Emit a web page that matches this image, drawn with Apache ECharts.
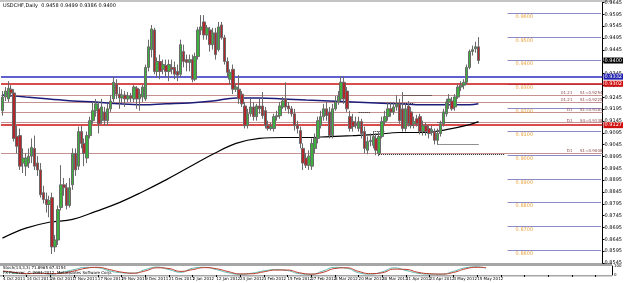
<!DOCTYPE html>
<html>
<head>
<meta charset="utf-8">
<script src="https://cdn.jsdelivr.net/npm/echarts@6/dist/echarts.min.js"></script>
<style>
html, body { margin: 0; padding: 0; background: #fff; }
#chart { width: 625px; height: 283px; }
</style>
</head>
<body>
<div id="chart"></div>
<script>
const symbolTitle = 'USDCHF,Daily  0.9458 0.9499 0.9386 0.9400';
const stochTitle = 'Stoch(14,3,3) 71.8965 67.4154';
const copyright = 'FX Premier, \u00a9 2001-2012, MetaQuotes Software Corp.';
const barCount = 164;
const emptyBars = 42;
const monthNames = ['Jan', 'Feb', 'Mar', 'Apr', 'May', 'Jun', 'Jul', 'Aug', 'Sep', 'Oct', 'Nov', 'Dec'];

// daily bars, 4 Oct 2011 .. 18 May 2012
const opens = [
	0.9188, 0.9246, 0.9238, 0.9279, 0.9263, 0.9079, 0.9083, 0.8967, 0.8954, 0.8967,
	0.8996, 0.9029, 0.8967, 0.8938, 0.8842, 0.8813, 0.8792, 0.8821, 0.8613, 0.8642,
	0.8779, 0.8875, 0.8863, 0.8788, 0.8875, 0.9008, 0.8954, 0.9100, 0.9050, 0.8988,
	0.9083, 0.9146, 0.9188, 0.9196, 0.9146, 0.9183, 0.9146, 0.9196, 0.9238, 0.9300,
	0.9258, 0.9242, 0.9254, 0.9238, 0.9250, 0.9238, 0.9283, 0.9238, 0.9246, 0.9238,
	0.9371, 0.9446, 0.9529, 0.9354, 0.9396, 0.9363, 0.9379, 0.9354, 0.9371, 0.9371,
	0.9354, 0.9342, 0.9438, 0.9404, 0.9392, 0.9404, 0.9321, 0.9417, 0.9529, 0.9563,
	0.9508, 0.9529, 0.9467, 0.9517, 0.9446, 0.9550, 0.9496, 0.9396, 0.9321, 0.9363,
	0.9279, 0.9279, 0.9258, 0.9208, 0.9125, 0.9175, 0.9204, 0.9163, 0.9208, 0.9208,
	0.9188, 0.9125, 0.9113, 0.9113, 0.9163, 0.9167, 0.9204, 0.9238, 0.9208, 0.9196,
	0.9175, 0.9125, 0.9104, 0.9029, 0.8988, 0.8958, 0.8954, 0.9029, 0.9071, 0.9125,
	0.9163, 0.9196, 0.9183, 0.9083, 0.9196, 0.9225, 0.9238, 0.9308, 0.9271, 0.9163,
	0.9142, 0.9133, 0.9113, 0.9142, 0.9100, 0.9021, 0.9058, 0.9042, 0.9071, 0.9008,
	0.9079, 0.9142, 0.9163, 0.9196, 0.9183, 0.9204, 0.9217, 0.9196, 0.9113, 0.9208,
	0.9183, 0.9133, 0.9154, 0.9163, 0.9100, 0.9125, 0.9113, 0.9100, 0.9100, 0.9063,
	0.9092, 0.9133, 0.9175, 0.9225, 0.9229, 0.9204, 0.9246, 0.9288, 0.9296, 0.9308,
	0.9371, 0.9438, 0.9450, 0.9458
];
const closes = [
	0.9246, 0.9271, 0.9283, 0.9263, 0.9071, 0.9038, 0.8954, 0.8988, 0.8988, 0.8996,
	0.9033, 0.8954, 0.8938, 0.8833, 0.8813, 0.8792, 0.8808, 0.8613, 0.8642, 0.8771,
	0.8875, 0.8863, 0.8788, 0.8863, 0.9008, 0.8938, 0.9100, 0.9050, 0.9008, 0.9083,
	0.9146, 0.9188, 0.9217, 0.9133, 0.9204, 0.9146, 0.9196, 0.9229, 0.9308, 0.9258,
	0.9242, 0.9254, 0.9238, 0.9250, 0.9242, 0.9288, 0.9238, 0.9258, 0.9288, 0.9371,
	0.9458, 0.9533, 0.9354, 0.9396, 0.9354, 0.9383, 0.9354, 0.9383, 0.9363, 0.9342,
	0.9338, 0.9467, 0.9396, 0.9392, 0.9404, 0.9321, 0.9417, 0.9529, 0.9542, 0.9508,
	0.9538, 0.9467, 0.9517, 0.9425, 0.9542, 0.9496, 0.9396, 0.9350, 0.9350, 0.9279,
	0.9288, 0.9238, 0.9217, 0.9125, 0.9175, 0.9204, 0.9163, 0.9208, 0.9196, 0.9167,
	0.9125, 0.9113, 0.9121, 0.9163, 0.9167, 0.9208, 0.9229, 0.9204, 0.9196, 0.9175,
	0.9125, 0.9113, 0.9050, 0.8967, 0.8958, 0.8996, 0.9050, 0.9071, 0.9146, 0.9163,
	0.9196, 0.9167, 0.9083, 0.9196, 0.9225, 0.9250, 0.9308, 0.9238, 0.9196, 0.9113,
	0.9121, 0.9129, 0.9142, 0.9092, 0.9029, 0.9058, 0.9063, 0.9079, 0.9021, 0.9079,
	0.9142, 0.9163, 0.9196, 0.9183, 0.9204, 0.9217, 0.9146, 0.9113, 0.9196, 0.9133,
	0.9125, 0.9142, 0.9133, 0.9100, 0.9125, 0.9100, 0.9092, 0.9108, 0.9063, 0.9092,
	0.9133, 0.9183, 0.9225, 0.9238, 0.9196, 0.9246, 0.9288, 0.9296, 0.9308, 0.9371,
	0.9438, 0.9446, 0.9458, 0.9400
];
const lows = [
	0.9167, 0.9229, 0.9225, 0.9246, 0.9058, 0.9008, 0.8938, 0.8925, 0.8913, 0.8946,
	0.8967, 0.8938, 0.8913, 0.8821, 0.8796, 0.8758, 0.8738, 0.8583, 0.8592, 0.8621,
	0.8767, 0.8829, 0.8771, 0.8779, 0.8854, 0.8913, 0.8938, 0.9029, 0.8954, 0.8967,
	0.9071, 0.9133, 0.9163, 0.9092, 0.9133, 0.9125, 0.9125, 0.9183, 0.9225, 0.9238,
	0.9196, 0.9221, 0.9204, 0.9225, 0.9225, 0.9225, 0.9196, 0.9188, 0.9225, 0.9229,
	0.9354, 0.9413, 0.9342, 0.9329, 0.9321, 0.9342, 0.9329, 0.9313, 0.9342, 0.9321,
	0.9313, 0.9329, 0.9371, 0.9354, 0.9354, 0.9308, 0.9313, 0.9404, 0.9508, 0.9488,
	0.9488, 0.9438, 0.9446, 0.9404, 0.9438, 0.9488, 0.9383, 0.9329, 0.9300, 0.9258,
	0.9267, 0.9217, 0.9204, 0.9113, 0.9113, 0.9163, 0.9146, 0.9146, 0.9175, 0.9154,
	0.9113, 0.9104, 0.9104, 0.9100, 0.9146, 0.9154, 0.9196, 0.9188, 0.9175, 0.9163,
	0.9104, 0.9092, 0.9029, 0.8938, 0.8946, 0.8938, 0.8938, 0.9008, 0.9050, 0.9113,
	0.9146, 0.9146, 0.9071, 0.9071, 0.9188, 0.9213, 0.9229, 0.9217, 0.9183, 0.9100,
	0.9100, 0.9113, 0.9100, 0.9071, 0.9008, 0.9004, 0.9038, 0.9029, 0.9000, 0.8996,
	0.9071, 0.9129, 0.9146, 0.9163, 0.9171, 0.9188, 0.9133, 0.9100, 0.9100, 0.9121,
	0.9113, 0.9113, 0.9121, 0.9088, 0.9083, 0.9083, 0.9071, 0.9083, 0.9046, 0.9046,
	0.9079, 0.9121, 0.9163, 0.9196, 0.9188, 0.9188, 0.9238, 0.9271, 0.9279, 0.9300,
	0.9363, 0.9421, 0.9433, 0.9386
];
const highs = [
	0.9271, 0.9288, 0.9313, 0.9296, 0.9279, 0.9125, 0.9113, 0.9029, 0.9008, 0.9029,
	0.9071, 0.9083, 0.8996, 0.8967, 0.8871, 0.8842, 0.8829, 0.8842, 0.8663, 0.8788,
	0.8958, 0.8904, 0.8883, 0.8904, 0.9029, 0.9029, 0.9121, 0.9125, 0.9071, 0.9100,
	0.9163, 0.9225, 0.9238, 0.9225, 0.9238, 0.9204, 0.9217, 0.9254, 0.9333, 0.9321,
	0.9288, 0.9279, 0.9271, 0.9267, 0.9263, 0.9296, 0.9292, 0.9279, 0.9300, 0.9383,
	0.9488, 0.9550, 0.9538, 0.9413, 0.9425, 0.9404, 0.9404, 0.9404, 0.9404, 0.9396,
	0.9383, 0.9488, 0.9467, 0.9425, 0.9425, 0.9425, 0.9433, 0.9542, 0.9592, 0.9592,
	0.9550, 0.9542, 0.9538, 0.9538, 0.9563, 0.9563, 0.9508, 0.9413, 0.9363, 0.9383,
	0.9300, 0.9338, 0.9271, 0.9225, 0.9196, 0.9238, 0.9225, 0.9217, 0.9238, 0.9267,
	0.9204, 0.9146, 0.9138, 0.9175, 0.9188, 0.9225, 0.9246, 0.9308, 0.9225, 0.9208,
	0.9196, 0.9146, 0.9121, 0.9050, 0.9008, 0.9021, 0.9071, 0.9092, 0.9163, 0.9188,
	0.9217, 0.9225, 0.9204, 0.9217, 0.9250, 0.9271, 0.9333, 0.9333, 0.9288, 0.9188,
	0.9175, 0.9163, 0.9163, 0.9154, 0.9121, 0.9079, 0.9092, 0.9100, 0.9092, 0.9100,
	0.9163, 0.9188, 0.9225, 0.9225, 0.9225, 0.9254, 0.9238, 0.9267, 0.9217, 0.9229,
	0.9204, 0.9163, 0.9171, 0.9175, 0.9146, 0.9138, 0.9125, 0.9125, 0.9113, 0.9113,
	0.9146, 0.9196, 0.9238, 0.9258, 0.9246, 0.9258, 0.9300, 0.9313, 0.9321, 0.9383,
	0.9446, 0.9463, 0.9479, 0.9499
];

// moving averages, sampled at [bar index, value]
const maNavy = [
	[0, 0.9254], [8, 0.9246], [16, 0.9238], [24, 0.9229], [32, 0.9225], [40, 0.9217],
	[48, 0.9213], [56, 0.9217], [64, 0.9221], [72, 0.9229], [80, 0.9242], [88, 0.9242],
	[96, 0.9238], [104, 0.9233], [112, 0.9229], [120, 0.9225], [128, 0.9221], [136, 0.9217],
	[144, 0.9213], [152, 0.9213], [160, 0.9213], [163, 0.9217]
];
const maBlack = [
	[0, 0.8650], [8, 0.8692], [16, 0.8717], [24, 0.8729], [32, 0.8763], [40, 0.8800],
	[48, 0.8846], [56, 0.8896], [64, 0.8950], [72, 0.9004], [80, 0.9050], [88, 0.9071],
	[96, 0.9075], [104, 0.9075], [112, 0.9079], [120, 0.9083], [128, 0.9088], [136, 0.9096],
	[144, 0.9096], [152, 0.9108], [160, 0.9129], [163, 0.9142]
];

// stochastic, sampled at [bar index, value]
const stochMain = [
	[0, 40], [4, 20], [8, 15], [12, 25], [16, 10], [20, 30], [24, 60], [28, 85], [32, 80],
	[36, 45], [40, 25], [44, 20], [48, 60], [52, 88], [56, 60], [60, 30], [64, 75], [68, 85],
	[72, 60], [76, 25], [80, 8], [84, 20], [88, 45], [92, 60], [96, 50], [100, 15], [104, 8],
	[108, 45], [112, 85], [116, 75], [120, 25], [124, 10], [128, 35], [132, 80], [136, 50],
	[140, 20], [144, 10], [148, 10], [152, 40], [156, 80], [160, 90], [163, 75]
];
const stochSignal = [
	[0, 45], [4, 28], [8, 15], [12, 20], [16, 15], [20, 20], [24, 45], [28, 75], [32, 85],
	[36, 60], [40, 32], [44, 20], [48, 45], [52, 80], [56, 72], [60, 40], [64, 60], [68, 82],
	[72, 70], [76, 38], [80, 12], [84, 14], [88, 35], [92, 55], [96, 55], [100, 25], [104, 10],
	[108, 30], [112, 72], [116, 80], [120, 40], [124, 15], [128, 25], [132, 65], [136, 62],
	[140, 30], [144, 14], [148, 10], [152, 28], [156, 68], [160, 86], [163, 82]
];

// horizontal levels
const pivotLevels = [0.9254, 0.9225, 0.9183, 0.9138, 0.9008];
const pivotTags = ['01.21      S1=0.9254', '01.21      S1=0.9225', 'D1      S1=0.9183', 'D1      S4=0.9138', 'D1      S1=0.9008'];
const fibLevels = [0.9600, 0.9500, 0.9400, 0.9300, 0.9200, 0.9100, 0.9000, 0.8900, 0.8800, 0.8700, 0.8600];
const fibRange = [173, 205];
const dottedSegments = [
	[137, 147, 0.9254], [149, 163, 0.9138], [149, 163, 0.9046], [129, 172, 0.9004],
	[122, 126, 0.9183], [127, 131, 0.9100], [132, 141, 0.9221]
];
// full-width levels with a price box on the axis (line: null = box only)
const priceTags = [
	{ value: 0.9400, bg: '#000000', line: null },
	{ value: 0.9332, bg: '#1f1fb0', line: '#2b2bc0' },
	{ value: 0.9302, bg: '#d01010', line: '#cc1111' },
	{ value: 0.9127, bg: '#d01010', line: '#cc1111' }
];

function buildDates() {
	const out = [];
	const d = new Date(2011, 9, 4);
	while (out.length < barCount) {
		const wd = d.getDay();
		if (wd !== 0 && wd !== 6) {
			out.push(d.getDate() + ' ' + monthNames[d.getMonth()] + ' ' + d.getFullYear());
		}
		d.setDate(d.getDate() + 1);
	}
	for (let i = 0; i < emptyBars; i++) out.push('');
	return out;
}

function buildMarkLines() {
	const lines = [];
	pivotLevels.forEach((v, i) => {
		lines.push({
			yAxis: v,
			lineStyle: { color: '#c49090', width: 1, type: 'solid' },
			label: { show: true, position: 'insideEndTop', formatter: pivotTags[i], fontSize: 4, color: '#8a4a4a', distance: 0 }
		});
	});
	fibLevels.forEach(v => {
		lines.push([
			{
				coord: [fibRange[0], v],
				lineStyle: { color: '#8a8ac8', width: 1.2, type: 'solid' },
				label: { show: true, position: 'insideStartBottom', formatter: v.toFixed(4), fontSize: 5, color: '#e8a23a', distance: [8, 1] }
			},
			{ coord: [fibRange[1], v] }
		]);
	});
	dottedSegments.forEach(s => {
		lines.push([
			{ coord: [s[0], s[2]], lineStyle: { color: '#222', width: 1, type: [1, 1] } },
			{ coord: [s[1], s[2]] }
		]);
	});
	priceTags.forEach(t => {
		lines.push({
			yAxis: t.value,
			lineStyle: { color: t.line || 'rgba(0,0,0,0)', width: 1.5, type: 'solid' },
			label: {
				show: true, position: 'end', distance: 1, formatter: t.value.toFixed(4),
				fontSize: 5, color: '#ffffff', backgroundColor: t.bg, padding: [1, 1, 0, 1]
			}
		});
	});
	return lines;
}

function draw() {
	const dates = buildDates();
	const candles = opens.map((o, i) => [o, closes[i], lows[i], highs[i]]);
	const box = document.getElementById('chart');
	const chart = echarts.init(box, null, { renderer: 'canvas' });
	const font = 'DejaVu Sans';

	chart.setOption({
		animation: false,
		backgroundColor: '#ffffff',
		textStyle: { fontFamily: font },
		grid: [
			{ left: 1, right: 13, top: 2, height: 261 },
			{ left: 1, right: 13, top: 266, height: 9 }
		],
		xAxis: [
			{
				type: 'category', gridIndex: 0, data: dates, boundaryGap: true,
				axisLine: { show: false }, axisTick: { show: false }, axisLabel: { show: false }, splitLine: { show: false }
			},
			{
				type: 'category', gridIndex: 1, data: dates, boundaryGap: true,
				axisLine: { show: false },
				axisTick: { show: true, interval: 7, alignWithLabel: true, length: 2, lineStyle: { color: '#000' } },
				axisLabel: { interval: 7, showMinLabel: true, fontSize: 4, color: '#000', align: 'left', margin: 2 },
				splitLine: { show: false }
			}
		],
		yAxis: [
			{
				type: 'value', gridIndex: 0, position: 'right', min: 0.8545, max: 0.9645, interval: 0.005,
				axisLine: { show: true, lineStyle: { color: '#000', width: 1 } },
				axisTick: { show: true, length: 2, lineStyle: { color: '#000' } },
				axisLabel: { fontSize: 5, color: '#000', margin: 2, formatter: v => v.toFixed(4) },
				splitLine: { show: false }
			},
			{
				type: 'value', gridIndex: 1, position: 'right', min: 0, max: 100, interval: 100,
				axisLine: { show: true, lineStyle: { color: '#000', width: 1 } },
				axisTick: { show: false },
				axisLabel: { fontSize: 4, color: '#000', margin: 2 },
				splitLine: { show: false }
			}
		],
		graphic: [
			{ type: 'rect', left: 0, top: 0, shape: { width: 612, height: 2 }, style: { fill: '#c4c4c4' }, silent: true },
			{ type: 'rect', left: 0, top: 263, shape: { width: 612, height: 3 }, style: { fill: '#a6a6a6' }, silent: true },
			{ type: 'rect', left: 0, top: 275, shape: { width: 612, height: 1.5 }, style: { fill: '#a6a6a6' }, silent: true },
			{ type: 'text', left: 3, top: 3, style: { text: symbolTitle, fontSize: 5, fill: '#000', fontFamily: font }, z: 20 },
			{ type: 'text', left: 3, top: 266, style: { text: stochTitle, fontSize: 4, fill: '#000', fontFamily: font }, z: 20 },
			{ type: 'text', left: 3, top: 271, style: { text: copyright, fontSize: 4, fill: '#000', fontFamily: font }, z: 20 }
		],
		series: [
			{
				type: 'line', xAxisIndex: 0, yAxisIndex: 0, data: maBlack, smooth: 0.4, showSymbol: false,
				lineStyle: { color: '#000', width: 1.2 }, z: 3
			},
			{
				type: 'line', xAxisIndex: 0, yAxisIndex: 0, data: maNavy, smooth: 0.4, showSymbol: false,
				lineStyle: { color: '#1c1c7a', width: 1.5 }, z: 3
			},
			{
				type: 'candlestick', xAxisIndex: 0, yAxisIndex: 0, data: candles, barWidth: 3, z: 4,
				itemStyle: {
					color: '#3db03d', color0: '#b3262a',
					borderColor: '#6a6a6a', borderColor0: '#6a6a6a', borderWidth: 1
				},
				markLine: {
					silent: true, symbol: 'none', animation: false, z: 2, precision: 4,
					label: { show: false },
					data: buildMarkLines()
				}
			},
			{
				type: 'line', xAxisIndex: 1, yAxisIndex: 1, data: stochMain, smooth: 0.5, showSymbol: false,
				lineStyle: { color: '#5fb8b0', width: 1 }
			},
			{
				type: 'line', xAxisIndex: 1, yAxisIndex: 1, data: stochSignal, smooth: 0.5, showSymbol: false,
				lineStyle: { color: '#c0392b', width: 1 }
			}
		]
	});

	window.addEventListener('resize', () => {
		chart.resize();
	});
}

window.addEventListener('load', () => {
	draw();
});
</script>
</body>
</html>
